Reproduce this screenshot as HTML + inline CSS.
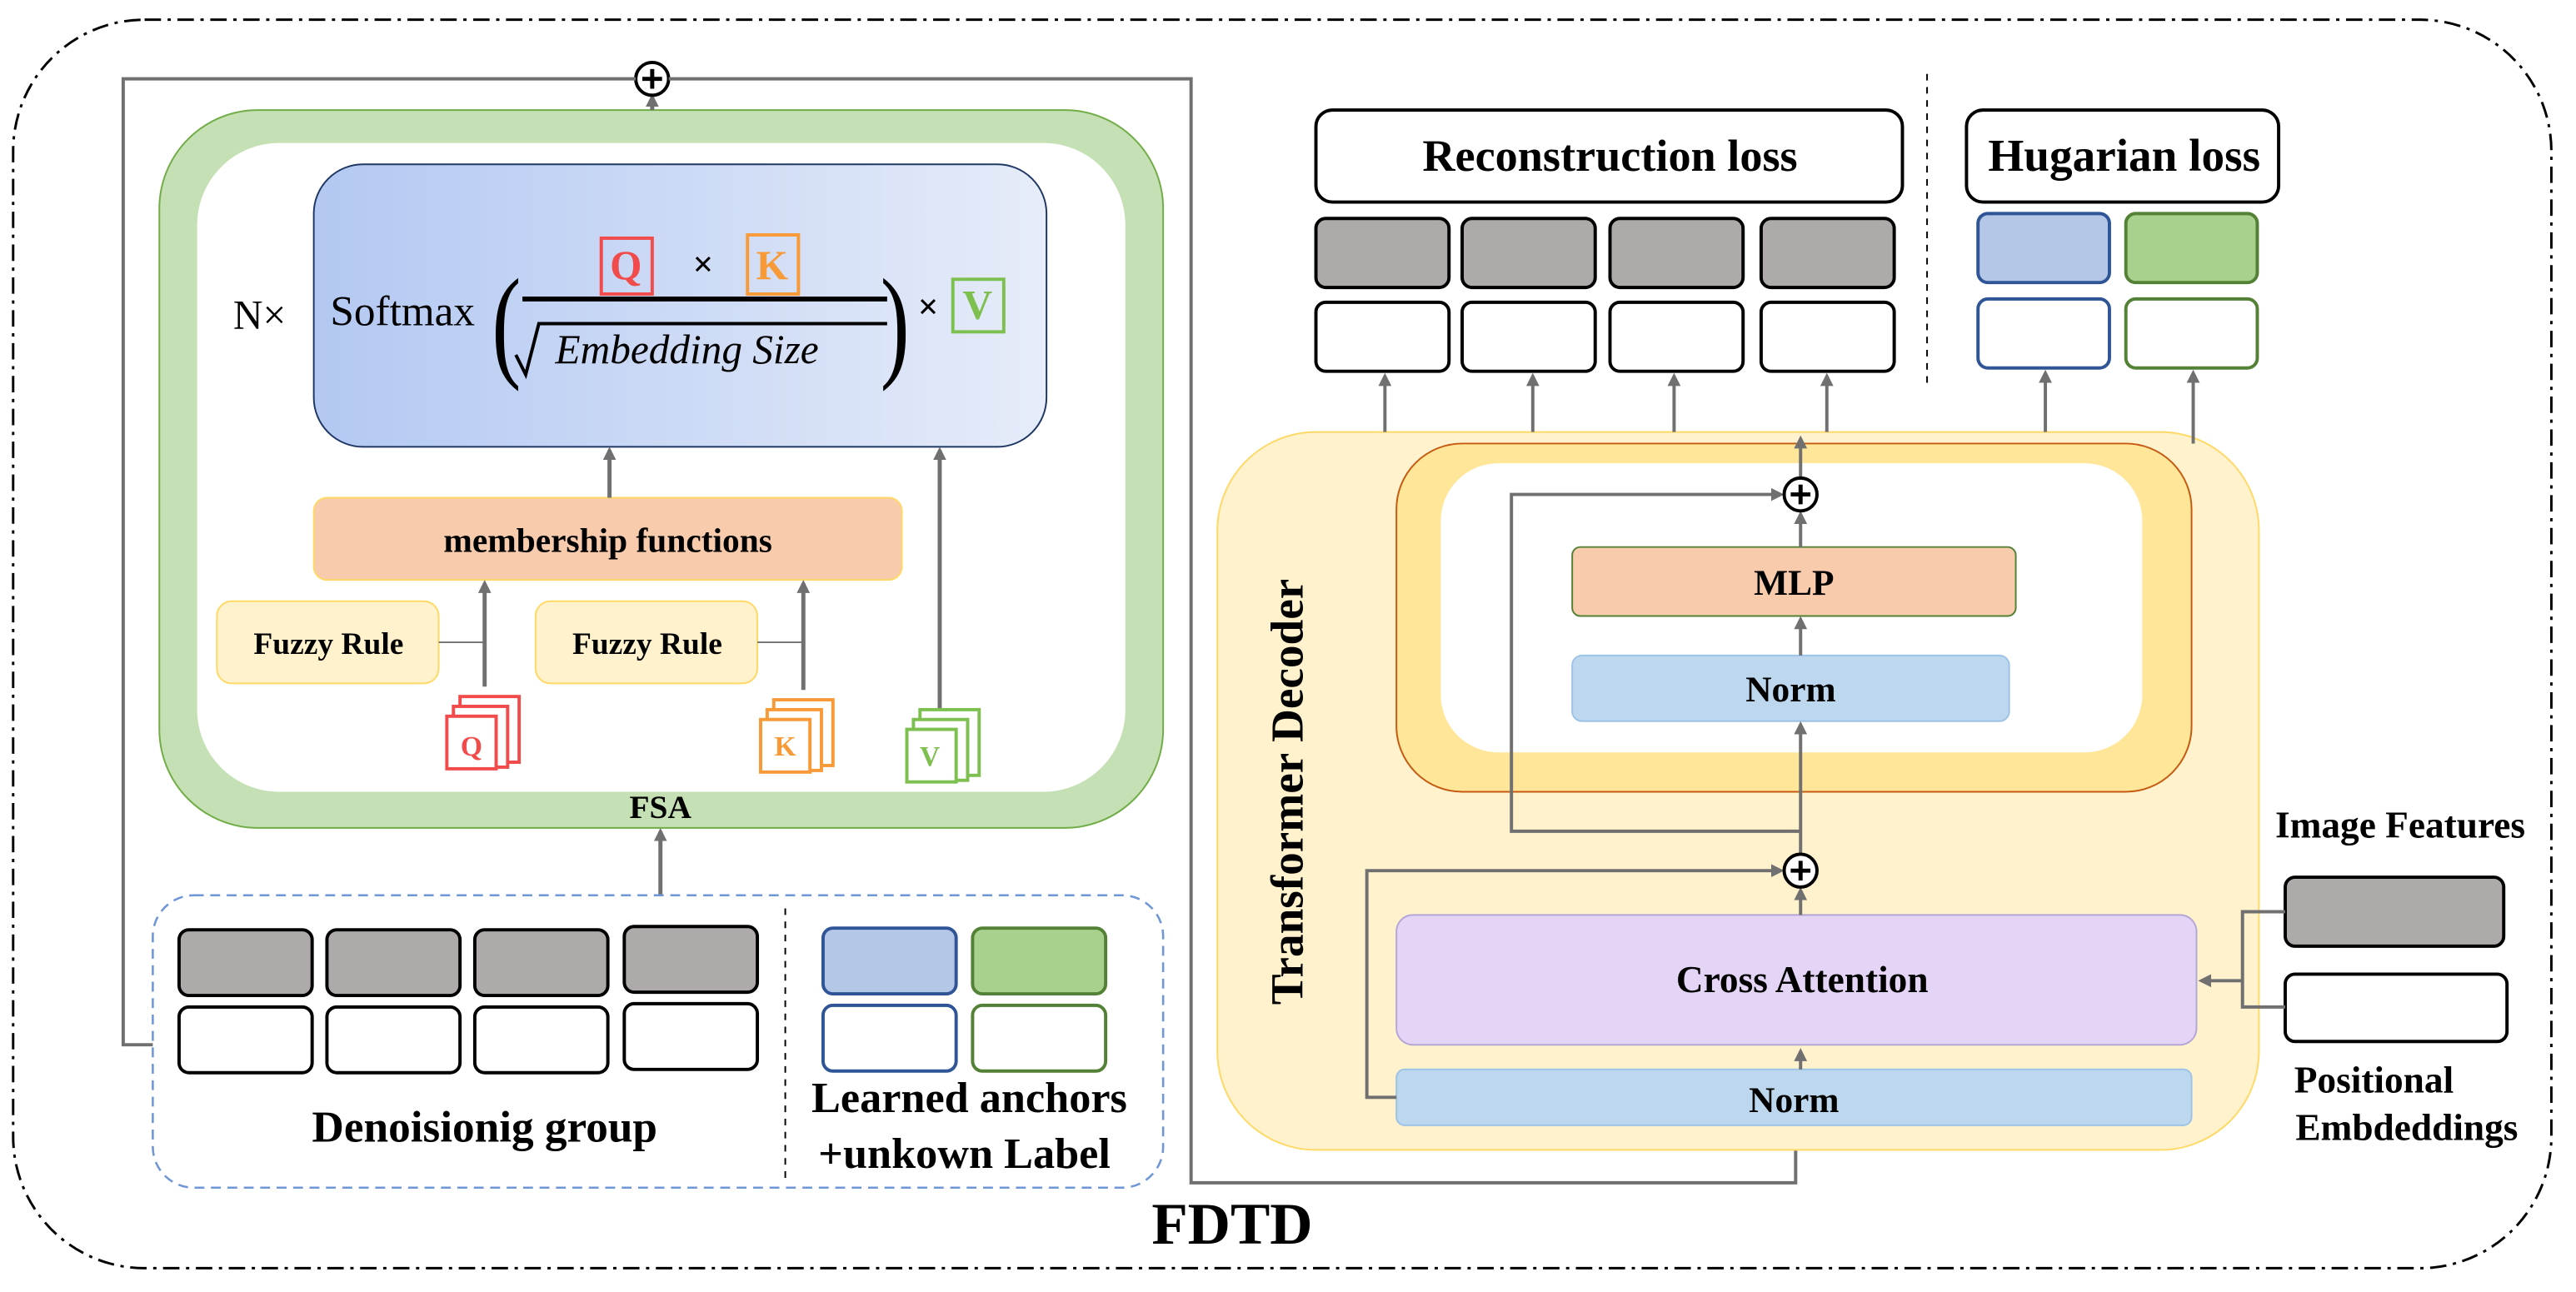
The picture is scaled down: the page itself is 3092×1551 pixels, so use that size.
<!DOCTYPE html>
<html><head><meta charset="utf-8"><style>
html,body{margin:0;padding:0;background:#fff}
svg{display:block}
text{font-family:"Liberation Serif",serif;}
.b{font-weight:bold}
</style></head><body>
<svg width="3092" height="1551" viewBox="0 0 1568 786.5" preserveAspectRatio="none" xmlns="http://www.w3.org/2000/svg">
<defs>
<linearGradient id="bg" x1="0" x2="1"><stop offset="0" stop-color="#b3c8f2"/><stop offset="1" stop-color="#e6ecf9"/></linearGradient>
<marker id="ah" markerWidth="8" markerHeight="8" refX="6" refY="4" orient="auto" markerUnits="userSpaceOnUse"><path d="M0,0 L8,4 L0,8 Z" fill="#707070"/></marker>
</defs>
<rect x="8" y="12" width="1545" height="760" rx="80" fill="none" stroke="#000" stroke-width="1.5" stroke-dasharray="10,4,2,4"/>

<!-- FSA -->
<rect x="97" y="67" width="611" height="437" rx="60" fill="#c5e0b4" stroke="#70ad47"/>
<rect x="120" y="87" width="565" height="395" rx="50" fill="#fff"/>
<text x="402" y="498" class="b" font-size="20" text-anchor="middle">FSA</text>
<rect x="191" y="100" width="446" height="172" rx="30" fill="url(#bg)" stroke="#1f3864"/>
<text x="158" y="200" font-size="25" text-anchor="middle">N×</text>
<text x="201" y="198" font-size="26">Softmax</text>
<text x="297" y="222" font-size="76" transform="scale(0.7,1)" transform-origin="305 200">(</text>
<text x="532" y="222" font-size="76" transform="scale(0.7,1)" transform-origin="545 200">)</text>
<line x1="318" y1="182" x2="540" y2="182" stroke="#000" stroke-width="3"/>
<path d="M314,216 L320,228 L328,197 L540,197" fill="none" stroke="#000" stroke-width="2"/>
<text x="338" y="221" font-size="25" font-style="italic">Embedding Size</text>
<rect x="366" y="145" width="31" height="34" fill="none" stroke="#f24b4b" stroke-width="2"/>
<text x="381" y="170" font-size="25" fill="#f24b4b" text-anchor="middle" class="b">Q</text>
<text x="428" y="168" font-size="22" class="b" text-anchor="middle" font-family="Liberation Sans">×</text>
<rect x="455" y="143" width="31" height="36" fill="none" stroke="#f79a37" stroke-width="2"/>
<text x="470" y="170" font-size="25" fill="#f79a37" text-anchor="middle" class="b">K</text>
<text x="565" y="194" font-size="22" class="b" text-anchor="middle" font-family="Liberation Sans">×</text>
<rect x="580" y="170" width="31" height="32" fill="none" stroke="#7dc050" stroke-width="2"/>
<text x="595" y="194" font-size="25" fill="#7dc050" text-anchor="middle" class="b">V</text>

<rect x="191" y="303" width="358" height="50" rx="8" fill="#f8cbad" stroke="#ffd966"/>
<text x="370" y="336" class="b" font-size="21" text-anchor="middle">membership functions</text>
<rect x="132" y="366" width="135" height="50" rx="9" fill="#fff2cc" stroke="#ffd966"/>
<text x="200" y="398" class="b" font-size="19" text-anchor="middle">Fuzzy Rule</text>
<rect x="326" y="366" width="135" height="50" rx="9" fill="#fff2cc" stroke="#ffd966"/>
<text x="394" y="398" class="b" font-size="19" text-anchor="middle">Fuzzy Rule</text>
<g stroke="#707070" stroke-width="2.5" fill="none" marker-end="url(#ah)">
<line x1="295" y1="418" x2="295" y2="355"/>
<line x1="489" y1="420" x2="489" y2="355"/>
<line x1="371" y1="303" x2="371" y2="274"/>
<line x1="572" y1="450" x2="572" y2="274"/>
<line x1="402" y1="545" x2="402" y2="506"/>
<line x1="397" y1="67" x2="397" y2="59"/>
</g>
<path d="M267,391 L295,391 M461,391 L489,391" stroke="#707070" stroke-width="1"/>
<!-- QKV stacks -->
<g fill="#fff" stroke-width="2">
<g stroke="#f24b4b"><rect x="280" y="424" width="36" height="40"/><rect x="276" y="430" width="33" height="37"/><rect x="272" y="436" width="30" height="32"/></g>
<text x="287" y="460" font-size="17" fill="#f24b4b" text-anchor="middle" class="b">Q</text>
<g stroke="#f79a37"><rect x="471" y="426" width="36" height="40"/><rect x="467" y="432" width="33" height="37"/><rect x="463" y="438" width="30" height="32"/></g>
<text x="478" y="460" font-size="17" fill="#f79a37" text-anchor="middle" class="b">K</text>
<g stroke="#7dc050"><rect x="560" y="432" width="36" height="40"/><rect x="556" y="438" width="33" height="37"/><rect x="552" y="444" width="30" height="32"/></g>
<text x="566" y="466" font-size="17" fill="#7dc050" text-anchor="middle" class="b">V</text>
</g>

<!-- skip around FSA -->
<circle cx="397" cy="48" r="10" fill="#fff" stroke="#000" stroke-width="2"/>
<path d="M391,48 H403 M397,42 V54" stroke="#000" stroke-width="2.5"/>
<path d="M93,636 H75 V48 H387" fill="none" stroke="#707070" stroke-width="2"/>
<path d="M407,48 H725 V720 H1093 V688" fill="none" stroke="#707070" stroke-width="2" marker-end="url(#ah)"/>

<!-- denoising -->
<rect x="93" y="545" width="615" height="178" rx="25" fill="none" stroke="#6f96d6" stroke-width="1.3" stroke-dasharray="6,4"/>
<line x1="478" y1="553" x2="478" y2="717" stroke="#000" stroke-dasharray="4,4"/>
<g stroke="#000" stroke-width="2">
<rect x="109" y="566" width="81" height="40" rx="6" fill="#aeaaaa"/><rect x="199" y="566" width="81" height="40" rx="6" fill="#aeaaaa"/><rect x="289" y="566" width="81" height="40" rx="6" fill="#aeaaaa"/><rect x="380" y="564" width="81" height="40" rx="6" fill="#aeaaaa"/>
<rect x="109" y="613" width="81" height="40" rx="6" fill="#fff"/><rect x="199" y="613" width="81" height="40" rx="6" fill="#fff"/><rect x="289" y="613" width="81" height="40" rx="6" fill="#fff"/><rect x="380" y="611" width="81" height="40" rx="6" fill="#fff"/>
</g>
<rect x="501" y="565" width="81" height="40" rx="6" fill="#b4c7e7" stroke="#2f5597" stroke-width="2"/>
<rect x="592" y="565" width="81" height="40" rx="6" fill="#a9d18e" stroke="#538135" stroke-width="2"/>
<rect x="501" y="612" width="81" height="40" rx="6" fill="#fff" stroke="#2f5597" stroke-width="2"/>
<rect x="592" y="612" width="81" height="40" rx="6" fill="#fff" stroke="#538135" stroke-width="2"/>
<text x="295" y="695" class="b" font-size="27" text-anchor="middle">Denoisionig group</text>
<text x="590" y="677" class="b" font-size="26.5" text-anchor="middle">Learned anchors</text>
<text x="587" y="711" class="b" font-size="26.5" text-anchor="middle">+unkown Label</text>

<!-- decoder -->
<rect x="741" y="263" width="634" height="437" rx="60" fill="#fff2cc" stroke="#ffd966"/>
<text transform="translate(793,482) rotate(-90)" class="b" font-size="28" text-anchor="middle">Transformer Decoder</text>
<rect x="850" y="270" width="484" height="212" rx="40" fill="#ffe699" stroke="#c55a11"/>
<rect x="877" y="282" width="427" height="176" rx="35" fill="#fff"/>
<rect x="957" y="333" width="270" height="42" rx="5" fill="#f8cbad" stroke="#548235"/>
<text x="1092" y="362" class="b" font-size="22" text-anchor="middle">MLP</text>
<rect x="957" y="399" width="266" height="40" rx="6" fill="#bdd7ee" stroke="#9dc3e6"/>
<text x="1090" y="427" class="b" font-size="22" text-anchor="middle">Norm</text>
<rect x="850" y="557" width="487" height="79" rx="10" fill="#e4d4f6" stroke="#b4a7d6"/>
<text x="1097" y="604" class="b" font-size="23" text-anchor="middle">Cross Attention</text>
<rect x="850" y="651" width="484" height="34" rx="5" fill="#bdd7ee" stroke="#9dc3e6"/>
<text x="1092" y="677" class="b" font-size="22" text-anchor="middle">Norm</text>

<g stroke="#707070" stroke-width="2" fill="none">
<path d="M1096,651 V640" marker-end="url(#ah)"/>
<path d="M1096,557 V542" marker-end="url(#ah)"/>
<path d="M1096,520 V441" marker-end="url(#ah)"/>
<path d="M1096,399 V377" marker-end="url(#ah)"/>
<path d="M1096,333 V313" marker-end="url(#ah)"/>
<path d="M1096,291 V267" marker-end="url(#ah)"/>
<path d="M1096,506 H920 V301 H1084" marker-end="url(#ah)"/>
<path d="M850,668 H832 V530 H1084" marker-end="url(#ah)"/>
</g>
<g fill="#fff" stroke="#000" stroke-width="2">
<circle cx="1096" cy="301" r="10"/><circle cx="1096" cy="530" r="10"/>
</g>
<path d="M1090,301 H1102 M1096,295 V307 M1090,530 H1102 M1096,524 V536" stroke="#000" stroke-width="2.5"/>

<!-- top losses -->
<rect x="801" y="67" width="357" height="56" rx="10" fill="#fff" stroke="#000" stroke-width="2"/>
<text x="980" y="104" class="b" font-size="27.5" text-anchor="middle">Reconstruction loss</text>
<rect x="1197" y="67" width="190" height="56" rx="10" fill="#fff" stroke="#000" stroke-width="2"/>
<text x="1293" y="104" class="b" font-size="28" text-anchor="middle">Hugarian loss</text>
<line x1="1173" y1="45" x2="1173" y2="237" stroke="#000" stroke-dasharray="4,4"/>
<g stroke="#000" stroke-width="2">
<rect x="801" y="133" width="81" height="42" rx="6" fill="#aeaaaa"/><rect x="890" y="133" width="81" height="42" rx="6" fill="#aeaaaa"/><rect x="980" y="133" width="81" height="42" rx="6" fill="#aeaaaa"/><rect x="1072" y="133" width="81" height="42" rx="6" fill="#aeaaaa"/>
<rect x="801" y="184" width="81" height="42" rx="6" fill="#fff"/><rect x="890" y="184" width="81" height="42" rx="6" fill="#fff"/><rect x="980" y="184" width="81" height="42" rx="6" fill="#fff"/><rect x="1072" y="184" width="81" height="42" rx="6" fill="#fff"/>
</g>
<rect x="1204" y="130" width="80" height="42" rx="6" fill="#b4c7e7" stroke="#2f5597" stroke-width="2"/>
<rect x="1294" y="130" width="80" height="42" rx="6" fill="#a9d18e" stroke="#538135" stroke-width="2"/>
<rect x="1204" y="182" width="80" height="42" rx="6" fill="#fff" stroke="#2f5597" stroke-width="2"/>
<rect x="1294" y="182" width="80" height="42" rx="6" fill="#fff" stroke="#538135" stroke-width="2"/>
<g stroke="#707070" stroke-width="2" marker-end="url(#ah)">
<line x1="843" y1="263" x2="843" y2="229"/><line x1="933" y1="263" x2="933" y2="229"/><line x1="1019" y1="263" x2="1019" y2="229"/><line x1="1112" y1="263" x2="1112" y2="229"/>
<line x1="1245" y1="263" x2="1245" y2="227"/><line x1="1335" y1="270" x2="1335" y2="227"/>
</g>

<!-- image features -->
<text x="1461" y="510" class="b" font-size="23" text-anchor="middle">Image Features</text>
<rect x="1391" y="534" width="133" height="42" rx="6" fill="#aeaaaa" stroke="#000" stroke-width="2"/>
<rect x="1391" y="593" width="135" height="41" rx="6" fill="#fff" stroke="#000" stroke-width="2"/>
<text x="1445" y="665" class="b" font-size="23" text-anchor="middle">Positional</text>
<text x="1465" y="694" class="b" font-size="23" text-anchor="middle">Embdeddings</text>
<path d="M1391,555 H1365 V613 H1391" fill="none" stroke="#707070" stroke-width="2"/>
<path d="M1365,597 H1340" fill="none" stroke="#707070" stroke-width="2" marker-end="url(#ah)"/>

<text x="750" y="757" class="b" font-size="36" text-anchor="middle">FDTD</text>
</svg>
</body></html>
